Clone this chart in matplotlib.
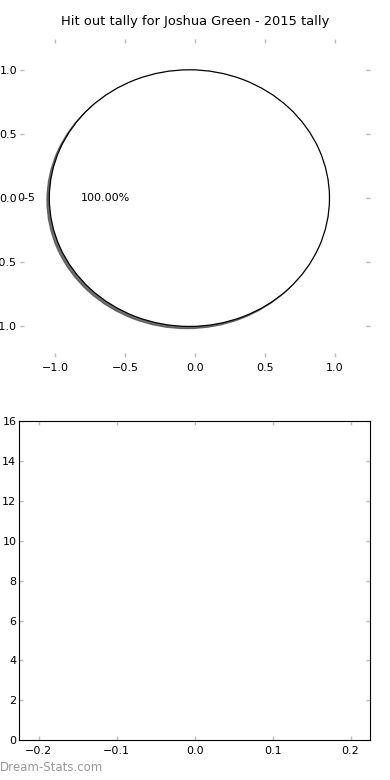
import matplotlib
matplotlib.use("Agg")
import matplotlib.pyplot as plt

title = "Hit out tally for Joshua Green - 2015 tally"
labels = ["0-5"]
values = [1]
pie_ticks = [-1.0, -0.5, 0.0, 0.5, 1.0]
bar_xticks = [-0.2, -0.1, 0.0, 0.1, 0.2]
bar_yticks = [0, 2, 4, 6, 8, 10, 12, 14, 16]

plt.rcParams['font.family'] = ['DejaVu Sans']
fig = plt.figure(figsize=(3.9, 7.8), dpi=100)

ax1 = fig.add_axes([0.051, 0.542, 0.898, 0.408])
ax1.pie(values, labels=labels, autopct='%1.2f%%',
        shadow=dict(ox=-0.012, oy=-0.012, alpha=0.8), frame=True,
        center=(-0.04, 0), colors=['white'],
        wedgeprops=dict(edgecolor='black', linewidth=0.9),
        textprops=dict(fontsize=8))
ax1.set_aspect('auto')
ax1.set_xlim(-1.25, 1.25)
ax1.set_ylim(-1.24, 1.24)
ax1.set_frame_on(False)
ax1.set_xticks(pie_ticks)
ax1.set_yticks(pie_ticks)
ax1.set_title(title, fontsize=9.4, pad=10)

ax2 = fig.add_axes([0.049, 0.051, 0.9, 0.409])
ax2.set_xlim(-0.225, 0.225)
ax2.set_ylim(0, 16)
ax2.set_xticks(bar_xticks)
ax2.set_yticks(bar_yticks)

for ax in (ax1, ax2):
    ax.tick_params(direction='in', length=3, width=1, color='#bbbbbb',
                   labelsize=8, top=True, right=True)
    ax.tick_params(axis='y', pad=2)
    ax.tick_params(axis='x', pad=4)

fig.text(0.0, 0.008, "Dream-Stats.com", fontsize=8.5, color='#999999',
         ha='left', va='bottom')

fig.savefig("out.png", dpi=100)
